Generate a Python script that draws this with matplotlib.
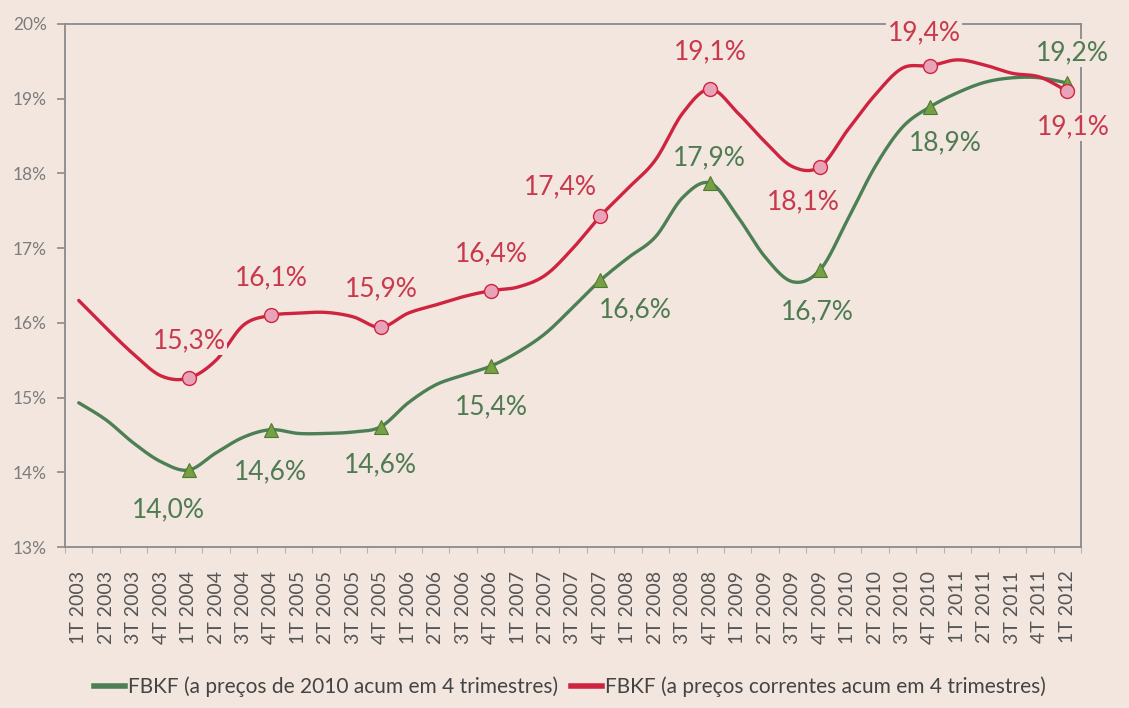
import matplotlib
matplotlib.use('Agg')
import matplotlib.pyplot as plt
import numpy as np
from matplotlib.lines import Line2D

plt.rcParams['font.family'] = ['Lato', 'DejaVu Sans']

# === dados ===
years = [2003, 2004, 2005, 2006, 2007, 2008, 2009, 2010, 2011, 2012]
quarter_labels = [f'{q}T {y}' for y in years for q in (1, 2, 3, 4)][:37]

# FBKF a preços correntes (acum. 4 trimestres), % do PIB
fbkf_correntes = [16.30, 15.93, 15.58, 15.29, 15.26, 15.50, 15.97, 16.10,
                  16.13, 16.14, 16.08, 15.94, 16.13, 16.24, 16.35, 16.43,
                  16.48, 16.64, 17.00, 17.43, 17.80, 18.18, 18.81, 19.13,
                  18.81, 18.42, 18.09, 18.09, 18.58, 19.05, 19.41, 19.44,
                  19.52, 19.45, 19.34, 19.29, 19.10]

# FBKF a preços de 2010 (acum. 4 trimestres), % do PIB
fbkf_2010 = [14.93, 14.70, 14.39, 14.14, 14.03, 14.26, 14.47, 14.57,
             14.52, 14.52, 14.54, 14.61, 14.93, 15.17, 15.30, 15.42,
             15.61, 15.86, 16.21, 16.57, 16.87, 17.15, 17.68, 17.87,
             17.42, 16.88, 16.55, 16.71, 17.38, 18.09, 18.62, 18.89,
             19.08, 19.22, 19.28, 19.28, 19.21]

marked = [4, 7, 11, 15, 19, 23, 27, 31, 36]

# deslocamento dos rótulos (pixels: dx, dy para cima)
red_offsets = [(1, 37), (0, 38), (1, 39), (1, 37), (-40, 29), (0, 37), (-17, -35), (-6, 33), (6, -36)]
green_offsets = [(-20, -40), (-1, -42), (0, -38), (1, -41), (35, -30), (-1, 25), (-3, -42), (15, -36), (5, 30)]

BG = '#f2e6df'
RED = '#cf2440'
RED_TXT = '#c9384d'
GREEN = '#4d7f55'
GREEN_TXT = '#4f7b52'
GRAY = '#7c7c7c'


def smooth(xs, ys, n=24):
    # curva suavizada tipo Excel (Catmull-Rom em Bezier)
    xs = np.asarray(xs, float)
    ys = np.asarray(ys, float)
    px = np.concatenate([[xs[0]], xs, [xs[-1]]])
    py = np.concatenate([[ys[0]], ys, [ys[-1]]])
    t = np.linspace(0, 1, n)
    outx, outy = [], []
    for i in range(1, len(px) - 2):
        p0x, p1x, p2x, p3x = px[i - 1], px[i], px[i + 1], px[i + 2]
        p0y, p1y, p2y, p3y = py[i - 1], py[i], py[i + 1], py[i + 2]
        c1x, c1y = p1x + (p2x - p0x) / 6, p1y + (p2y - p0y) / 6
        c2x, c2y = p2x - (p3x - p1x) / 6, p2y - (p3y - p1y) / 6
        b = [(1 - t) ** 3, 3 * (1 - t) ** 2 * t, 3 * (1 - t) * t ** 2, t ** 3]
        outx.append(b[0] * p1x + b[1] * c1x + b[2] * c2x + b[3] * p2x)
        outy.append(b[0] * p1y + b[1] * c1y + b[2] * c2y + b[3] * p2y)
    return np.concatenate(outx), np.concatenate(outy)


fig = plt.figure(figsize=(11.29, 7.08), dpi=100, facecolor=BG)
ax = fig.add_axes([65 / 1129, 1 - 547 / 708, (1081 - 65) / 1129, (547 - 24) / 708])
ax.set_facecolor(BG)

x = np.arange(len(quarter_labels))

sx, sy = smooth(x, fbkf_2010)
ax.plot(sx, sy, color=GREEN, lw=2.4, zorder=3, solid_capstyle='round')
sx, sy = smooth(x, fbkf_correntes)
ax.plot(sx, sy, color=RED, lw=2.4, zorder=3, solid_capstyle='round')

ax.plot(x[marked], np.array(fbkf_2010)[marked], ls='none', marker='^', ms=10,
        mfc='#76a043', mec='#4f7a33', mew=0.8, zorder=4)
ax.plot(x[marked], np.array(fbkf_correntes)[marked], ls='none', marker='o', ms=10,
        mfc='#e9a3b8', mec=RED, mew=1.0, zorder=4)

bbox = dict(boxstyle='square,pad=0.05', fc=BG, ec='none')
for k, i in enumerate(marked):
    v = fbkf_correntes[i]
    ax.annotate(f'{v:.1f}%'.replace('.', ','), xy=(i, v), xytext=red_offsets[k],
                textcoords='offset pixels', ha='center', va='center',
                fontsize=19, color=RED_TXT, bbox=bbox, zorder=6, annotation_clip=False)
    v = fbkf_2010[i]
    ax.annotate(f'{v:.1f}%'.replace('.', ','), xy=(i, v), xytext=green_offsets[k],
                textcoords='offset pixels', ha='center', va='center',
                fontsize=19, color=GREEN_TXT, bbox=bbox, zorder=6, annotation_clip=False)

ax.set_xlim(-0.5, len(x) - 0.5)
ax.set_ylim(13, 20)
ax.set_yticks(range(13, 21))
ax.set_yticklabels([f'{v}%' for v in range(13, 21)])
ax.set_xticks(x)
ax.set_xticklabels(quarter_labels, rotation=90)
ax.set_xticks(np.arange(-0.5, len(x)), minor=True)

for s in ax.spines.values():
    s.set_color('#8a8a8a')
    s.set_linewidth(1.3)

ax.tick_params(axis='y', length=6, width=1.2, color='#8a8a8a', pad=7,
               labelsize=12.5, labelcolor=GRAY)
ax.tick_params(axis='x', which='major', length=0, pad=17, labelsize=14, labelcolor='#555555')
ax.tick_params(axis='x', which='minor', length=4, width=0.8, color='#bdb2ad')

handles = [Line2D([], [], color=GREEN, lw=4),
           Line2D([], [], color=RED, lw=4)]
fig.legend(handles,
           ['FBKF (a preços de 2010 acum em 4 trimestres)',
            'FBKF (a preços correntes acum em 4 trimestres)'],
           loc='center', bbox_to_anchor=(570 / 1129, 1 - 687 / 708), ncol=2,
           frameon=False, handlelength=1.5, handletextpad=0.15, columnspacing=0.6,
           prop={'family': ['Liberation Sans Narrow', 'DejaVu Sans Condensed', 'Lato'], 'size': 15},
           labelcolor='#444444')

fig.savefig('out.png', dpi=100, facecolor=BG)
